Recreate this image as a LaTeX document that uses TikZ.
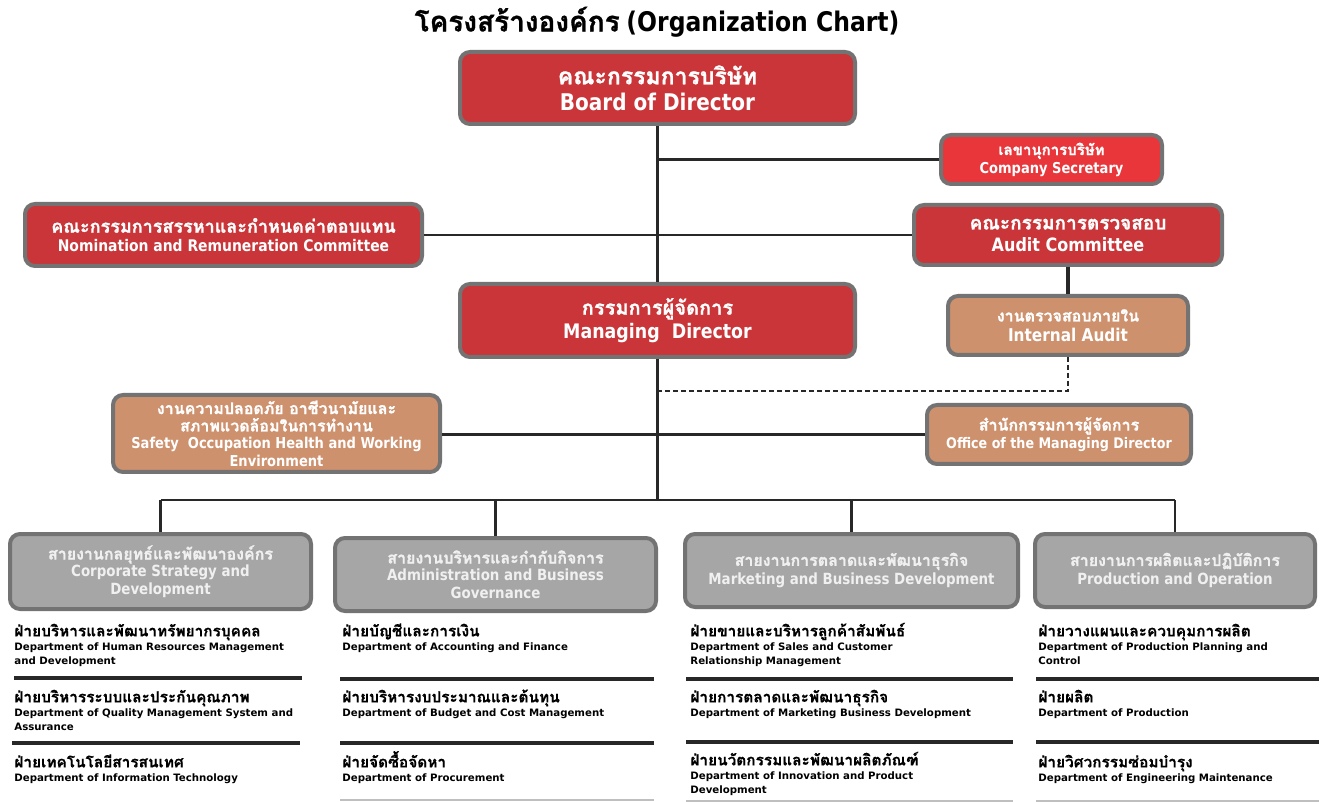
\documentclass[tikz,border=0pt]{standalone}
\usepackage{fontspec}
\newfontfamily\thaifont[Script=Thai,FakeBold=1]{Loma}
\newfontfamily\thaidept[Script=Thai,FakeBold=0.5]{Loma}
\newfontfamily\engfont[FakeStretch=0.87]{DejaVu Sans}
\newfontfamily\deptfont{DejaVu Sans}
\definecolor{boardred}{RGB}{201,53,56}
\definecolor{secred}{RGB}{233,54,58}
\definecolor{tanfill}{RGB}{205,145,110}
\definecolor{divgray}{RGB}{166,166,166}
\definecolor{divtext}{RGB}{240,240,240}
\definecolor{boxgray}{RGB}{115,115,115}
\definecolor{linegray}{RGB}{40,40,40}
% thai line inside a box: size, text
\newcommand\thl[2]{{\thaifont\bfseries\fontsize{#1}{#1}\selectfont #2}}
\newcommand\dthai[1]{{\thaidept\fontsize{7.7}{8}\selectfont\rule{0pt}{9pt}#1}}
\tikzset{
  box/.style={draw=boxgray, line width=2pt, rounded corners=5pt, text=white,
    align=center, inner sep=0pt},
  redbox/.style={box, fill=boardred},
  secbox/.style={box, fill=secred},
  tanbox/.style={box, fill=tanfill},
  divbox/.style={box, fill=divgray, text=divtext},
  conn/.style={draw=linegray, line width=1.4pt},
  dashline/.style={draw=linegray, line width=0.6pt, dash pattern=on 2.5pt off 1.5pt},
  sepline/.style={draw=linegray, line width=2pt},
  lightline/.style={draw=black!25, line width=0.8pt},
  dept/.style={anchor=north west, align=left, inner sep=0pt, text=black,
    font=\deptfont\bfseries\fontsize{5.1}{7.1}\selectfont},
}
\begin{document}
\begin{tikzpicture}[x=0.5pt,y=-0.5pt]
\useasboundingbox (0,0) rectangle (1324,802);
% title
\node (title) at (657,22) {\thl{14}{โครงสร้างองค์กร} {\engfont\bfseries\fontsize{13.5}{14}\selectfont (Organization Chart)}};
% top boxes
\node[redbox, minimum width=197.5pt, minimum height=36pt,
  font=\engfont\bfseries\fontsize{11.5}{13}\selectfont] (board) at (657.5,88)
  {\thl{11.5}{คณะกรรมการบริษัท}\\Board of Director};
\node[secbox, minimum width=110.5pt, minimum height=24.5pt,
  font=\engfont\bfseries\fontsize{7.5}{9}\selectfont] (sec) at (1051.5,159.5)
  {\thl{7.5}{เลขานุการบริษัท}\\Company Secretary};
\node[redbox, minimum width=198.5pt, minimum height=31pt,
  font=\engfont\bfseries\fontsize{8}{9.5}\selectfont] (nrc) at (223.5,235)
  {\thl{9}{คณะกรรมการสรรหาและกำหนดค่าตอบแทน}\\Nomination and Remuneration Committee};
\node[redbox, minimum width=154pt, minimum height=30pt,
  font=\engfont\bfseries\fontsize{9.2}{11}\selectfont] (audit) at (1068,235)
  {\thl{9.5}{คณะกรรมการตรวจสอบ}\\Audit Committee};
\node[redbox, minimum width=197.5pt, minimum height=36.5pt,
  font=\engfont\bfseries\fontsize{10}{12}\selectfont] (md) at (657.5,320.5)
  {\thl{10}{กรรมการผู้จัดการ}\\Managing\ \ Director};
\node[tanbox, minimum width=120pt, minimum height=29.5pt,
  font=\engfont\bfseries\fontsize{8.8}{10}\selectfont] (ia) at (1068,325.5)
  {\thl{8}{งานตรวจสอบภายใน}\\Internal Audit};
\node[tanbox, minimum width=163.5pt, minimum height=38.5pt,
  font=\engfont\bfseries\fontsize{7.5}{8.7}\selectfont] (safety) at (276.5,433.5)
  {\thl{8}{งานความปลอดภัย อาชีวนามัยและ}\\\thl{8}{สภาพแวดล้อมในการทำงาน}\\Safety\ \ Occupation Health and Working\\Environment};
\node[tanbox, minimum width=132pt, minimum height=29.5pt,
  font=\engfont\bfseries\fontsize{7.3}{9}\selectfont] (office) at (1059,434.5)
  {\thl{8}{สำนักกรรมการผู้จัดการ}\\Office of the Managing Director};
% divisions
\node[divbox, minimum width=150.5pt, minimum height=37.5pt,
  font=\engfont\bfseries\fontsize{7.7}{8.7}\selectfont] (div1) at (160.5,571.5)
  {\thl{8}{สายงานกลยุทธ์และพัฒนาองค์กร}\\Corporate Strategy and\\Development};
\node[divbox, minimum width=160.5pt, minimum height=36.5pt,
  font=\engfont\bfseries\fontsize{7.7}{8.7}\selectfont] (div2) at (495.5,574.5)
  {\thl{8}{สายงานบริหารและกำกับกิจการ}\\Administration and Business\\Governance};
\node[divbox, minimum width=166.5pt, minimum height=36.5pt,
  font=\engfont\bfseries\fontsize{7.7}{9.5}\selectfont] (div3) at (851.5,570.5)
  {\thl{8}{สายงานการตลาดและพัฒนาธุรกิจ}\\Marketing and Business Development};
\node[divbox, minimum width=140pt, minimum height=36.5pt,
  font=\engfont\bfseries\fontsize{7.7}{9.5}\selectfont] (div4) at (1175,570.5)
  {\thl{8}{สายงานการผลิตและปฏิบัติการ}\\Production and Operation};
% connectors
\coordinate (dashy) at (0,391);
\coordinate (busy) at (0,500);
\draw[conn] (board.south) -- (md.north);
\draw[conn] (board.south |- sec.west) -- (sec.west);
\draw[conn] (nrc.east) -- (audit.west);
\draw[conn, line width=2.4pt] (audit.south) -- (ia.north);
\draw[dashline] (ia.south) |- (md.south |- dashy);
\draw[conn] (md.south) -- (md.south |- busy);
\draw[conn] (safety.east |- office.west) -- (office.west);
\draw[conn] (div1.north |- busy) -- (div4.north |- busy);
\foreach \d in {div1,div2,div3,div4}
  \draw[conn] (\d.north |- busy) -- (\d.north);
% departments
\node[dept] (d11) at (14,618) {\dthai{ฝ่ายบริหารและพัฒนาทรัพยากรบุคคล}\\Department of Human Resources Management\\and Development};
\node[dept] (d12) at (14,684) {\dthai{ฝ่ายบริหารระบบและประกันคุณภาพ}\\Department of Quality Management System and\\Assurance};
\node[dept] (d13) at (14,749) {\dthai{ฝ่ายเทคโนโลยีสารสนเทศ}\\Department of Information Technology};
\node[dept] (d21) at (342,618) {\dthai{ฝ่ายบัญชีและการเงิน}\\Department of Accounting and Finance};
\node[dept] (d22) at (342,684) {\dthai{ฝ่ายบริหารงบประมาณและต้นทุน}\\Department of Budget and Cost Management};
\node[dept] (d23) at (342,749) {\dthai{ฝ่ายจัดซื้อจัดหา}\\Department of Procurement};
\node[dept] (d31) at (690,618) {\dthai{ฝ่ายขายและบริหารลูกค้าสัมพันธ์}\\Department of Sales and Customer\\Relationship Management};
\node[dept] (d32) at (690,684) {\dthai{ฝ่ายการตลาดและพัฒนาธุรกิจ}\\Department of Marketing Business Development};
\node[dept] (d33) at (690,747) {\dthai{ฝ่ายนวัตกรรมและพัฒนาผลิตภัณฑ์}\\Department of Innovation and Product\\Development};
\node[dept] (d41) at (1038,618) {\dthai{ฝ่ายวางแผนและควบคุมการผลิต}\\Department of Production Planning and\\Control};
\node[dept] (d42) at (1038,684) {\dthai{ฝ่ายผลิต}\\Department of Production};
\node[dept] (d43) at (1038,749) {\dthai{ฝ่ายวิศวกรรมซ่อมบำรุง}\\Department of Engineering Maintenance};
% separators
\draw[sepline] (14,678) -- (302,678);
\draw[sepline] (12,743) -- (300,743);
\draw[sepline] (340,679) -- (654,679);
\draw[sepline] (340,743) -- (654,743);
\draw[sepline] (686,679) -- (1013,679);
\draw[sepline] (686,742) -- (1013,742);
\draw[sepline] (1036,679) -- (1319,679);
\draw[sepline] (1036,742) -- (1319,742);
\draw[lightline] (340,800) -- (654,800);
\draw[lightline] (686,801) -- (1013,801);
\draw[lightline] (1036,801) -- (1319,801);
\end{tikzpicture}
\end{document}
